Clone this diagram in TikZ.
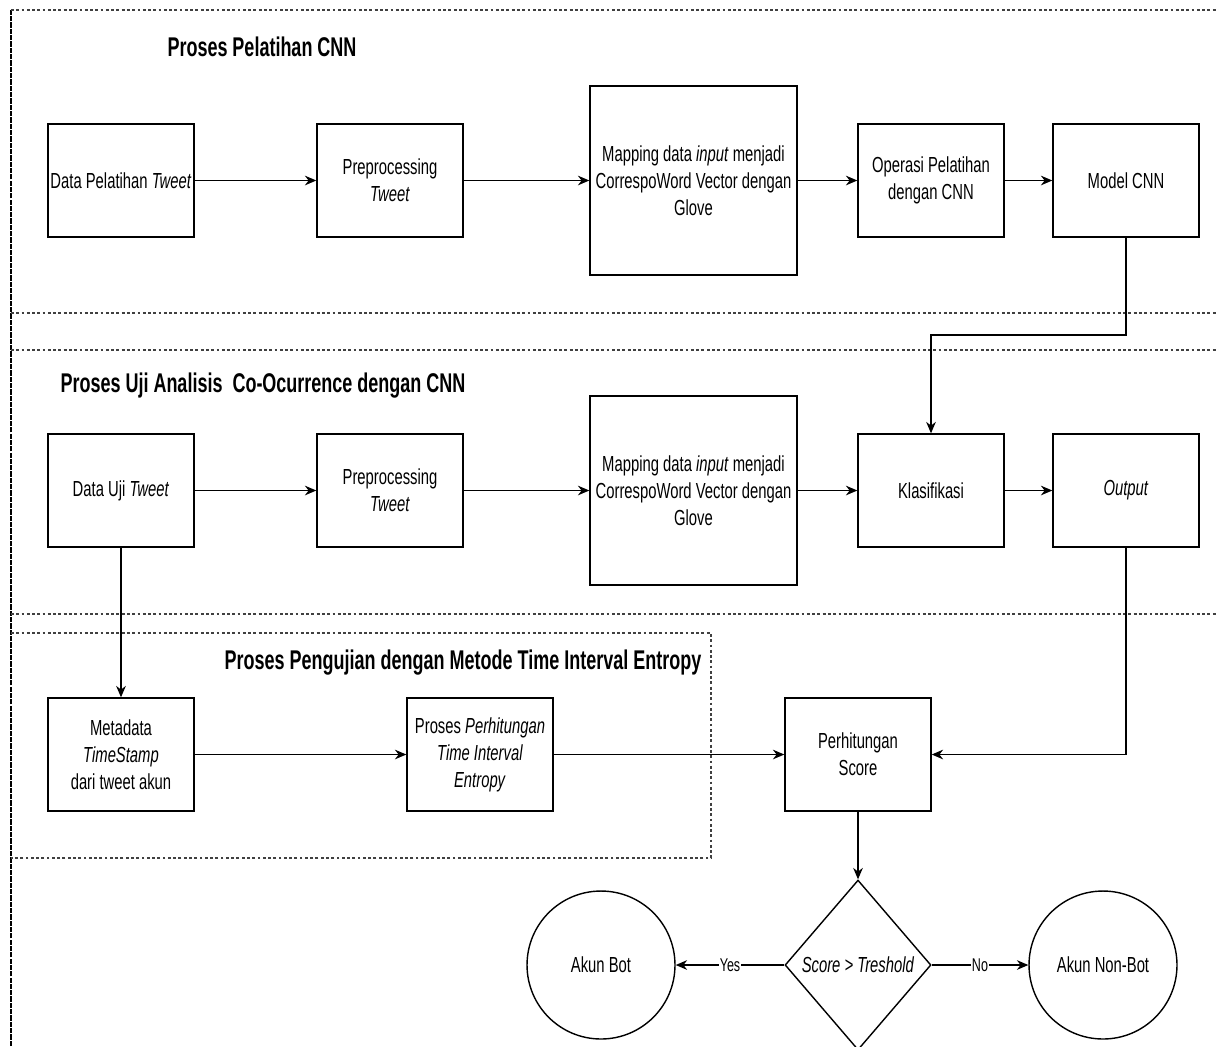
\documentclass[tikz,border=0pt]{standalone}
\usepackage{fontspec}
\setmainfont{Liberation Sans}[FakeStretch=0.68]
\newfontfamily\titlefont{Liberation Sans}[FakeStretch=0.665]
\usetikzlibrary{shapes.geometric,arrows.meta}

\begin{document}
\begin{tikzpicture}[x=0.02cm,y=-0.02cm]
		\tikzstyle{every node}+=[inner sep=0pt, align=center, font=\fontsize{12.4}{15.4}\selectfont]
		\tikzstyle{proc}=[draw, line width=0.8pt, minimum width=2.92cm, minimum height=2.26cm]
		\tikzstyle{bigproc}=[proc, minimum width=4.14cm, minimum height=3.78cm]
		\tikzstyle{lane}=[line width=0.8pt, black!75, dash pattern=on 1.6pt off 1.4pt]
		\tikzstyle{flow}=[line width=0.8pt, -{Stealth[length=6.5pt,width=5.5pt]}]
		\tikzstyle{judul}=[font=\titlefont\bfseries\fontsize{15.4}{18}\selectfont]
		\tikzstyle{ket}=[fill=white, inner sep=0.5pt, font=\fontsize{10.5}{12}\selectfont]
		\useasboundingbox (0,0) rectangle (1216,1046);
		\clip (0,0) rectangle (1216,1046);
		\draw [line width=1pt, dash pattern=on 3pt off 0.6pt] (11,1046) -- (11,10);
		\draw [lane] (11,10) -- (1216,10);
		\draw [lane] (11,313) -- (1216,313);
		\draw [lane] (11,350) -- (1216,350);
		\draw [lane] (11,614) -- (1216,614);
		\draw [lane] (11,633) -- (711,633) -- (711,858) -- (11,858);
		\draw (262,47) node [judul] (t1) {Proses Pelatihan CNN};
		\draw (263,386) node [judul] (t2) {Proses Uji Analisis\ \ Co-Ocurrence dengan CNN};
		\draw (463,663) node [judul] (t3) {Proses Pengujian dengan Metode Time Interval Entropy};
		\draw (121,180.5) node [proc] (a1) {Data Pelatihan \textit{Tweet}};
		\draw (390,180.5) node [proc] (a2) {Preprocessing\\\textit{Tweet}};
		\draw (693.5,180.5) node [bigproc] (a3) {Mapping data \textit{input} menjadi\\CorrespoWord Vector dengan\\Glove};
		\draw (931,180.5) node [proc] (a4) {Operasi Pelatihan\\dengan CNN};
		\draw (1126,180.5) node [proc] (a5) {Model CNN};
		\draw (121,490.5) node [proc] (b1) {Data Uji \textit{Tweet}};
		\draw (390,490.5) node [proc] (b2) {Preprocessing\\\textit{Tweet}};
		\draw (693.5,490.5) node [bigproc] (b3) {Mapping data \textit{input} menjadi\\CorrespoWord Vector dengan\\Glove};
		\draw (931,490.5) node [proc] (b4) {Klasifikasi};
		\draw (1126,490.5) node [proc] (b5) {\textit{Output}};
		\draw (121,754.5) node [proc] (c1) {Metadata\\\textit{TimeStamp}\\dari tweet akun};
		\draw (480,754.5) node [proc] (c2) {Proses \textit{Perhitungan}\\\textit{Time Interval}\\\textit{Entropy}};
		\draw (858,754.5) node [proc] (c3) {Perhitungan\\Score};
		\draw (858,965) node [diamond, draw, line width=0.8pt, minimum width=2.92cm, minimum height=3.4cm] (kep) {\textit{Score > Treshold}};
		\draw (601,965) node [circle, draw, line width=0.8pt, minimum size=2.96cm] (bot) {Akun Bot};
		\draw (1103,965) node [circle, draw, line width=0.8pt, minimum size=2.96cm] (nonbot) {Akun Non-Bot};
		\coordinate (belok) at (1126,335);
		\draw [flow] (a1) -- (a2);
		\draw [flow] (a2) -- (a3);
		\draw [flow] (a3) -- (a4);
		\draw [flow] (a4) -- (a5);
		\draw [flow] (a5.south) -- (belok) -| (b4.north);
		\draw [flow] (b1) -- (b2);
		\draw [flow] (b2) -- (b3);
		\draw [flow] (b3) -- (b4);
		\draw [flow] (b4) -- (b5);
		\draw [flow] (b1) -- (c1);
		\draw [flow] (c1) -- (c2);
		\draw [flow] (c2) -- (c3);
		\draw [flow] (b5.south) |- (c3.east);
		\draw [flow] (c3) -- (kep);
		\draw [flow] (kep.west) -- node [ket] {Yes} (bot.east);
		\draw [flow] (kep.east) -- node [ket] {No} (nonbot.west);
\end{tikzpicture}
\end{document}
